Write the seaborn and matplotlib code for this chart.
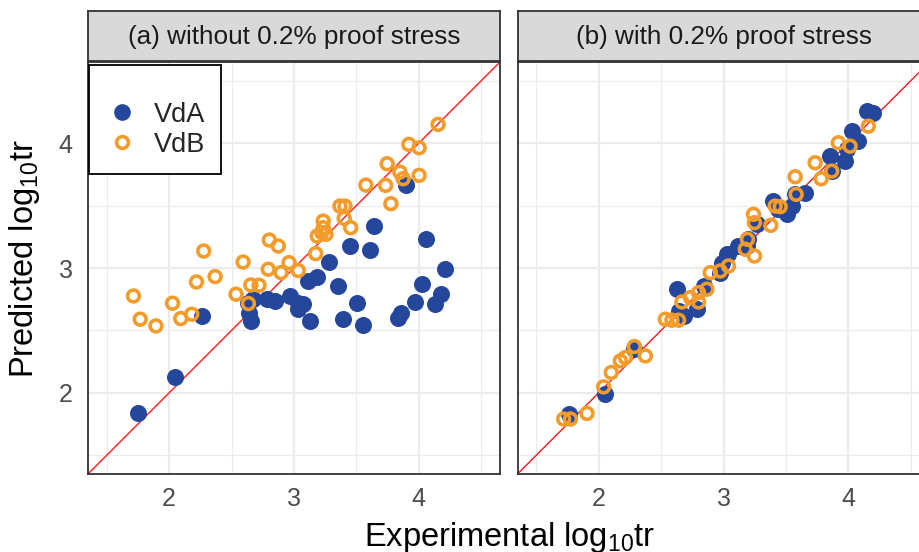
import matplotlib
matplotlib.use("Agg")
import matplotlib.pyplot as plt
import seaborn as sns
import pandas as pd
from matplotlib.lines import Line2D

# ---------------- data ----------------
panel_titles = ["(a) without 0.2% proof stress", "(b) with 0.2% proof stress"]
series_names = ["VdA", "VdB"]
tick_values = [2, 3, 4]

a_vda_x = [1.754, 2.048, 2.267, 2.635, 2.640, 2.655, 2.675, 2.781, 2.848, 2.968,
           3.034, 3.034, 3.075, 3.128, 3.114, 3.186, 3.282, 3.350, 3.395, 3.448,
           3.501, 3.550, 3.608, 3.643, 3.835, 3.856, 3.896, 3.968, 4.027, 4.061,
           4.133, 4.176, 4.208]
a_vda_y = [1.835, 2.128, 2.616, 2.720, 2.640, 2.576, 2.750, 2.750, 2.736, 2.776,
           2.670, 2.723, 2.709, 2.576, 2.896, 2.931, 3.051, 2.856, 2.595, 3.176,
           2.717, 2.542, 3.142, 3.336, 2.597, 2.638, 3.662, 2.731, 2.870, 3.230,
           2.715, 2.795, 2.990]

a_vdb_x = [1.714, 1.768, 1.894, 2.027, 2.093, 2.181, 2.219, 2.277, 2.368, 2.536,
           2.592, 2.635, 2.654, 2.720, 2.794, 2.802, 2.874, 2.896, 2.960, 3.034,
           3.174, 3.186, 3.222, 3.234, 3.234, 3.256, 3.368, 3.408, 3.402, 3.454,
           3.576, 3.746, 3.734, 3.776, 3.848, 3.874, 3.920, 4.002, 4.002, 4.154]
a_vdb_y = [2.776, 2.590, 2.536, 2.718, 2.595, 2.630, 2.888, 3.136, 2.931, 2.790,
           3.048, 2.715, 2.864, 2.862, 2.990, 3.224, 3.176, 2.963, 3.043, 2.980,
           3.115, 3.256, 3.283, 3.376, 3.323, 3.270, 3.496, 3.496, 3.398, 3.323,
           3.664, 3.835, 3.662, 3.515, 3.768, 3.715, 3.990, 3.963, 3.742, 4.150]

b_vda_x = [1.760, 2.054, 2.280, 2.627, 2.640, 2.680, 2.787, 2.840, 2.974, 3.027,
           3.040, 2.987, 3.120, 3.187, 3.200, 3.267, 3.400, 3.440, 3.507, 3.547,
           3.574, 3.654, 3.854, 3.867, 3.974, 3.987, 4.080, 4.027, 4.150, 4.200]
b_vda_y = [1.830, 1.990, 2.350, 2.830, 2.656, 2.616, 2.670, 2.856, 2.963, 3.110,
           3.110, 3.043, 3.176, 3.176, 3.230, 3.350, 3.536, 3.470, 3.430, 3.496,
           3.590, 3.603, 3.896, 3.776, 3.856, 3.950, 4.016, 4.096, 4.255, 4.245]

b_vdb_x = [1.720, 1.774, 1.907, 2.040, 2.101, 2.174, 2.214, 2.286, 2.374, 2.534,
           2.587, 2.640, 2.667, 2.734, 2.800, 2.800, 2.867, 2.894, 2.974, 3.040,
           3.174, 3.192, 3.248, 3.240, 3.248, 3.379, 3.414, 3.454, 3.574, 3.582,
           3.734, 3.782, 3.867, 3.920, 4.014, 4.160]
b_vdb_y = [1.790, 1.790, 1.835, 2.048, 2.163, 2.256, 2.283, 2.371, 2.296, 2.590,
           2.582, 2.582, 2.728, 2.763, 2.728, 2.803, 2.830, 2.963, 2.976, 3.016,
           3.150, 3.230, 3.096, 3.430, 3.363, 3.342, 3.496, 3.491, 3.731, 3.590,
           3.843, 3.715, 3.776, 4.003, 3.976, 4.136]

# ---------------- style ----------------
BLUE = "#24479c"
ORANGE = "#f39b2b"
sns.set_theme(style="white")
plt.rcParams["font.family"] = ["Liberation Sans", "DejaVu Sans"]
plt.rcParams["mathtext.fontset"] = "custom"
plt.rcParams["mathtext.rm"] = "Liberation Sans"
plt.rcParams["mathtext.it"] = "Liberation Sans:italic"
plt.rcParams["mathtext.bf"] = "Liberation Sans:bold"

W, H = 919, 552
fig = plt.figure(figsize=(W / 100, H / 100), dpi=100)
fig.patch.set_facecolor("white")

P_TOP, P_BOT = 62, 474
P_W = 412
lefts = [88, 517.5]
LIM = (1.35, 4.65)

data = [
    (pd.DataFrame({"x": a_vda_x, "y": a_vda_y}), pd.DataFrame({"x": a_vdb_x, "y": a_vdb_y})),
    (pd.DataFrame({"x": b_vda_x, "y": b_vda_y}), pd.DataFrame({"x": b_vdb_x, "y": b_vdb_y})),
]

axes = []
for i, left in enumerate(lefts):
    ax = fig.add_axes([left / W, 1 - P_BOT / H, P_W / W, (P_BOT - P_TOP) / H])
    axes.append(ax)
    ax.set_xlim(LIM)
    ax.set_ylim(LIM)
    ax.set_xticks(tick_values)
    ax.set_yticks(tick_values)
    ax.set_xticks([1.5, 2.5, 3.5, 4.5], minor=True)
    ax.set_yticks([1.5, 2.5, 3.5, 4.5], minor=True)
    ax.grid(which="major", color="#EBEBEB", lw=1.6)
    ax.grid(which="minor", color="#EBEBEB", lw=0.8)
    ax.set_axisbelow(True)
    for s in ax.spines.values():
        s.set_color("#333333")
        s.set_linewidth(1.3)
    ax.tick_params(which="major", length=6, width=1.3, color="#333333",
                   labelsize=18, labelcolor="#4D4D4D")
    ax.tick_params(axis="x", which="major", pad=3.5)
    ax.tick_params(axis="y", which="major", pad=5)
    ax.tick_params(which="minor", length=0)
    if i == 1:
        ax.tick_params(axis="y", which="both", left=False, labelleft=False)

    ax.axline((2, 2), (3, 3), color="#FF1A1A", lw=1.0, zorder=1.5)

    d_vda, d_vdb = data[i]
    sns.scatterplot(data=d_vda, x="x", y="y", ax=ax, color=BLUE, s=150,
                    marker="o", linewidth=0, zorder=3, legend=False)
    sns.scatterplot(data=d_vdb, x="x", y="y", ax=ax, s=72, marker="o",
                    facecolors="none", edgecolor=ORANGE, linewidth=2.6,
                    zorder=4, legend=False)
    ax.set_xlabel("")
    ax.set_ylabel("")

    # facet strip
    sax = fig.add_axes([left / W, 1 - 61 / H, P_W / W, 50 / H])
    sax.set_facecolor("#D9D9D9")
    sax.set_xticks([])
    sax.set_yticks([])
    for s in sax.spines.values():
        s.set_color("#333333")
        s.set_linewidth(1.3)
    sax.text(0.5, 0.48, panel_titles[i], transform=sax.transAxes, ha="center",
             va="center", fontsize=18.8, color="#1A1A1A")

# legend
handles = [
    Line2D([], [], marker="o", linestyle="none", markersize=12, markerfacecolor=BLUE,
           markeredgewidth=0, color=BLUE),
    Line2D([], [], marker="o", linestyle="none", markersize=8.5, markerfacecolor="none",
           markeredgecolor=ORANGE, markeredgewidth=2.6),
]
leg = axes[0].legend(handles, series_names, loc="upper left",
                     bbox_to_anchor=(1 / P_W, 1 - 3 / P_W), borderaxespad=0,
                     fontsize=19.5, title=" ", title_fontsize=14, frameon=True,
                     fancybox=False, framealpha=1, edgecolor="black",
                     borderpad=0.58, handlelength=1.3, handletextpad=0.5,
                     labelspacing=0.15)
leg.get_frame().set_linewidth(1.3)
leg.set_zorder(10)

# axis titles
fig.text(510 / W, 1 - 546 / H, r"Experimental log$_{10}$tr", ha="center",
         va="baseline", fontsize=23.5, color="black")
fig.text(33 / W, 1 - 259 / H, r"Predicted log$_{10}$tr", ha="center",
         va="baseline", rotation=90, rotation_mode="anchor", fontsize=23.5,
         color="black")

fig.savefig("out.png", dpi=100, facecolor="white")
